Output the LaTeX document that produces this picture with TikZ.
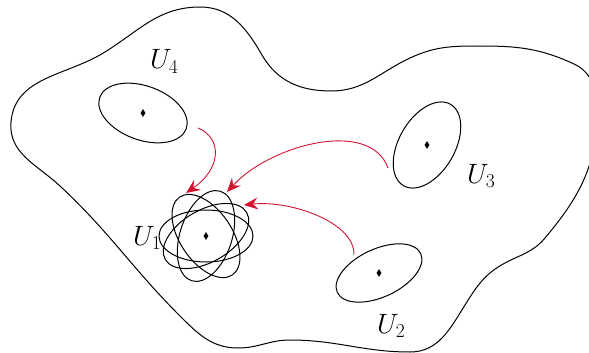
\RequirePackage{fix-cm}
\documentclass[tikz,border=0pt]{standalone}
\usetikzlibrary{arrows.meta,shapes.geometric}
\definecolor{arrred}{RGB}{210,20,50}
\begin{document}
\begin{tikzpicture}[x=1pt,y=1pt,
  outline/.style={line width=1pt},
  region/.style={line width=1pt},
  centre/.style={diamond, fill=black, inner sep=0pt, minimum width=5pt, minimum height=8pt},
  lab/.style={anchor=base west, inner sep=0pt, font=\fontsize{28}{32}\selectfont},
  flow/.style={arrred, line width=0.9pt, -{Stealth[length=14pt,width=12pt,inset=5pt]}},
]
\useasboundingbox (0,0) rectangle (589,-353);
% big region
\coordinate (p1) at (11,-122);
\coordinate (p2) at (105,-52);
\coordinate (p3) at (200,-7);
\coordinate (p4) at (262,-55);
\coordinate (p5) at (331,-91);
\coordinate (p6) at (410,-58);
\coordinate (p7) at (480,-46);
\coordinate (p8) at (574,-64);
\coordinate (p9) at (597,-112);
\coordinate (p10) at (545,-238);
\coordinate (p11) at (505,-263);
\coordinate (p12) at (465,-305);
\coordinate (p13) at (410,-352);
\coordinate (p14) at (290,-340);
\coordinate (p15) at (238,-348);
\coordinate (p16) at (180,-316);
\coordinate (p17) at (60,-186);
\draw[outline] (p1) to[out=85,in=-148] (p2) to[out=32,in=180] (p3)
  to[out=0,in=120] (p4) to[out=-60,in=180] (p5) to[out=0,in=-155] (p6)
  to[out=25,in=180] (p7) to[out=0,in=155] (p8) to[out=-25,in=90] (p9)
  to[out=-90,in=50] (p10) to[out=-130,in=28] (p11) to[out=-152,in=58] (p12)
  to[out=-122,in=0] (p13) to[out=180,in=0] (p14) to[out=180,in=0] (p15)
  to[out=180,in=-45] (p16) to[out=135,in=-43] (p17) to[out=137,in=-95] (p1) -- cycle;
% centres
\node[centre] (c1) at (206,-236) {};
\node[centre] (c2) at (379,-273) {};
\node[centre] (c3) at (427,-145) {};
\node[centre] (c4) at (143,-113) {};
% neighbourhoods
\draw[region, rotate around={-20:(c4.center)}] (c4.center) ellipse [x radius=46, y radius=27];
\draw[region, rotate around={60:(c3.center)}] (c3.center) ellipse [x radius=47, y radius=28];
\draw[region, rotate around={25:(c2.center)}] (c2.center) ellipse [x radius=46, y radius=24];
\foreach \a in {0,30,72,124}
  \draw[region, rotate around={\a:(c1.center)}] (c1.center) ellipse [x radius=47, y radius=26];
% labels
\node[lab] (l1) at (133,-245) {$U_1$};
\node[lab] (l2) at (377,-333) {$U_2$};
\node[lab] (l3) at (467,-183) {$U_3$};
\node[lab] (l4) at (150,-69) {$U_4$};
% arrows
\coordinate (s4) at (198,-128); \coordinate (e4) at (186,-193);
\coordinate (s3) at (388,-168); \coordinate (e3) at (227,-192);
\coordinate (s2) at (354,-255); \coordinate (e2) at (244,-205);
\draw[flow] (s4) .. controls (222,-138) and (222,-168) .. (e4);
\draw[flow] (s3) .. controls (370,-118) and (270,-145) .. (e3);
\draw[flow] (s2) .. controls (355,-222) and (290,-200) .. (e2);
\end{tikzpicture}
\end{document}
